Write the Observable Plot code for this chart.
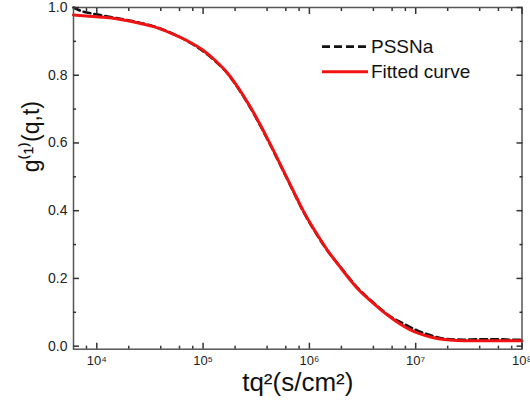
<!DOCTYPE html>
<html><head><meta charset="utf-8">
<script src="https://cdn.jsdelivr.net/npm/d3@7"></script>
<script src="https://cdn.jsdelivr.net/npm/@observablehq/plot@0.6"></script>
<style>body{margin:0;background:#fff;} #wrap{position:relative;width:530px;height:408px;overflow:hidden;}</style>
</head><body><div id="wrap"></div>
<script>
// Measured data (PSSNa)
const dataT = [6.03e3,7.08e3,8.71e3,1.15e4,1.58e4,2.40e4,3.55e4,4.90e4,7.08e4,1.00e5,1.32e5,1.70e5,2.09e5,2.82e5,4.17e5,5.62e5,7.08e5,8.71e5,1.12e6,1.48e6,1.91e6,2.40e6,2.88e6,3.72e6,4.68e6,5.75e6,7.41e6,1.02e7,1.38e7,1.95e7,2.82e7,3.98e7,6.31e7,7.94e7,1.00e8];
const dataG = [1.000,0.990,0.983,0.976,0.968,0.957,0.943,0.926,0.901,0.871,0.840,0.805,0.766,0.701,0.602,0.520,0.456,0.399,0.340,0.282,0.238,0.199,0.170,0.137,0.110,0.088,0.069,0.047,0.032,0.021,0.019,0.020,0.020,0.019,0.019];
// Fitted curve
const fitT = [6.03e3,7.94e3,1.17e4,1.58e4,2.40e4,3.55e4,4.90e4,7.08e4,1.00e5,1.32e5,1.70e5,2.09e5,2.82e5,4.17e5,5.62e5,7.08e5,8.71e5,1.12e6,1.48e6,1.91e6,2.40e6,2.88e6,3.72e6,4.68e6,5.75e6,7.08e6,8.91e6,1.10e7,1.38e7,1.70e7,2.09e7,2.82e7,3.98e7,6.31e7,1.00e8];
const fitG = [0.978,0.975,0.971,0.966,0.955,0.942,0.925,0.902,0.874,0.842,0.806,0.768,0.703,0.604,0.522,0.458,0.401,0.342,0.283,0.237,0.197,0.168,0.135,0.108,0.086,0.066,0.048,0.036,0.027,0.021,0.018,0.0162,0.016,0.016,0.016];

const seriesNames = ["PSSNa", "Fitted curve"];
const xMajorTicks = [1e4, 1e5, 1e6, 1e7, 1e8];
const xTickLabels = ["10⁴", "10⁵", "10⁶", "10⁷", "10⁸"];
const xMinorTicks = [8e3, 2e4, 4e4, 6e4, 8e4, 2e5, 4e5, 6e5, 8e5, 2e6, 4e6, 6e6, 8e6, 2e7, 4e7, 6e7, 8e7];
const yMajorTicks = [0, 0.2, 0.4, 0.6, 0.8, 1.0];
const yMinorTicks = [0.1, 0.3, 0.5, 0.7, 0.9];
const xLabel = "tq²(s/cm²)";
const yLabel = "g⁽¹⁾(q,t)";

const dataRows = dataT.map((t, i) => ({t, g: dataG[i]}));
const fitRows = fitT.map((t, i) => ({t, g: fitG[i]}));

const FONT = '"Liberation Sans", Arial, sans-serif';
const RED = "#f01313";
const AX = "#333";

const noText = () => "";
const chart = Plot.plot({
  width: 530, height: 408,
  marginLeft: 73, marginRight: 8.5, marginTop: 7, marginBottom: 59.3,
  style: {fontFamily: FONT, background: "transparent", overflow: "visible", color: "#222"},
  x: {type: "log", domain: [6.04e3, 1e8]},
  y: {domain: [-0.009, 1.0]},
  marks: [
    Plot.line(dataRows, {x: "t", y: "g", stroke: "#111", strokeWidth: 2.6, strokeDasharray: "7,4", curve: "monotone-x"}),
    Plot.line(fitRows, {x: "t", y: "g", stroke: RED, strokeWidth: 3, curve: "monotone-x"}),
    Plot.frame({stroke: "#555", strokeWidth: 1.5}),
    // y axis labels and ticks
    Plot.axisY(yMajorTicks, {anchor: "left", tickSize: 0, tickPadding: 6, fontSize: 14, tickFormat: d3.format(".1f"), label: null}),
    Plot.axisY(yMajorTicks, {anchor: "left", tickSize: -6, tickFormat: noText, label: null, stroke: AX, strokeWidth: 1.5}),
    Plot.axisY(yMinorTicks, {anchor: "left", tickSize: -3, tickFormat: noText, label: null, stroke: AX, strokeWidth: 1.5}),
    Plot.axisY(yMajorTicks, {anchor: "right", tickSize: -6, tickFormat: noText, label: null, stroke: AX, strokeWidth: 1.5}),
    Plot.axisY(yMinorTicks, {anchor: "right", tickSize: -3, tickFormat: noText, label: null, stroke: AX, strokeWidth: 1.5}),
    // x axis
    Plot.axisX(xMajorTicks, {anchor: "bottom", tickSize: 0, tickPadding: 7, fontSize: 13, tickFormat: d => xTickLabels[xMajorTicks.indexOf(d)], label: null}),
    Plot.axisX(xMajorTicks, {anchor: "bottom", tickSize: -6, tickFormat: noText, label: null, stroke: AX, strokeWidth: 1.5}),
    Plot.axisX(xMinorTicks, {anchor: "bottom", tickSize: -3, tickFormat: noText, label: null, stroke: AX, strokeWidth: 1.5}),
    Plot.axisX(xMajorTicks, {anchor: "top", tickSize: -6, tickFormat: noText, label: null, stroke: AX, strokeWidth: 1.5}),
    Plot.axisX(xMinorTicks, {anchor: "top", tickSize: -3, tickFormat: noText, label: null, stroke: AX, strokeWidth: 1.5}),
    // axis titles
    Plot.text([xLabel], {frameAnchor: "bottom", text: d => d, dy: 42, fontSize: 26, fill: "#111"}),
    Plot.text([yLabel], {frameAnchor: "left", text: d => d, rotate: -90, dx: -42, dy: -6, fontSize: 23, fill: "#111"})
  ]
});
document.getElementById("wrap").appendChild(chart);

// Legend
const svg = d3.select(chart);
const lg = svg.append("g").attr("font-family", FONT).attr("font-size", 19).attr("fill", "#111");
const legendItems = [
  {name: seriesNames[0], stroke: "#111", dash: "8,4", width: 2.8},
  {name: seriesNames[1], stroke: RED, dash: null, width: 3}
];
legendItems.forEach((it, i) => {
  const y = 46.7 + i * 25;
  lg.append("line").attr("x1", 322).attr("x2", 368).attr("y1", y).attr("y2", y)
    .attr("stroke", it.stroke).attr("stroke-width", it.width).attr("stroke-dasharray", it.dash);
  lg.append("text").attr("x", 371).attr("y", y).attr("dy", "0.35em").attr("text-anchor", "start").text(it.name);
});
</script>
</body></html>
